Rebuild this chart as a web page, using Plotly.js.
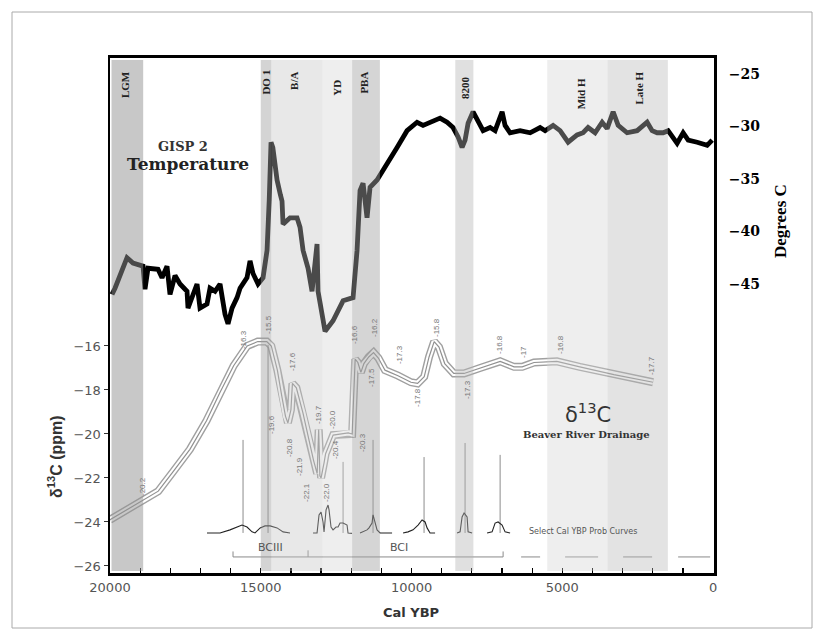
<!DOCTYPE html>
<html>
<head>
<meta charset="utf-8">
<script src="https://cdn.plot.ly/plotly-3.0.1.min.js"></script>
<style>
html,body{margin:0;padding:0;background:#fff;}
#chart{width:822px;height:639px;}
</style>
</head>
<body>
<div id="chart"></div>
<script>
// ---------- DATA ----------
// GISP2 temperature (years BP, degrees C)
const tempYears = [19934,19834,19436,19237,18905,18839,18740,18408,18275,18109,18010,17844,17678,17446,17413,17114,17015,16783,16683,16517,16351,16185,16086,15953,15787,15688,15456,15356,15257,15091,14925,14792,14720,14660,14600,14460,14350,14295,14262,14030,13797,13698,13598,13432,13300,13134,13101,12968,12868,12603,12271,11940,11807,11708,11608,11476,11376,11144,10945,10712,10480,10149,9817,9618,9386,9054,8822,8623,8457,8324,8225,8125,7959,7793,7627,7395,7229,6997,6898,6732,6400,6068,5737,5571,5306,5074,4808,4510,4311,4145,3913,3680,3514,3315,3149,2851,2519,2188,2022,1856,1657,1491,1193,993,827,529,197,31];
const tempValues = [-46.0,-45.4,-42.5,-43.0,-43.3,-45.5,-43.5,-43.6,-44.4,-43.3,-46.0,-44.2,-45.0,-45.7,-47.3,-45.0,-47.3,-46.9,-45.4,-45.7,-45.0,-47.9,-48.8,-47.3,-46.3,-45.4,-44.4,-42.8,-44.0,-45.0,-44.4,-41.8,-37.0,-31.5,-32.0,-35.1,-36.5,-37.1,-39.3,-38.7,-38.7,-39.6,-41.8,-43.5,-45.7,-41.2,-45.7,-47.6,-49.5,-48.5,-46.6,-46.3,-41.8,-36.1,-35.4,-38.7,-35.8,-35.1,-34.2,-33.2,-32.0,-30.4,-29.6,-29.9,-29.6,-29.2,-29.6,-30.1,-31.0,-32.0,-31.3,-29.7,-28.6,-29.4,-30.4,-30.1,-30.4,-28.6,-29.9,-30.6,-30.4,-30.6,-30.1,-30.4,-29.9,-30.4,-31.5,-30.8,-30.6,-30.1,-30.6,-29.6,-30.2,-28.6,-29.9,-30.6,-30.4,-29.6,-30.4,-30.6,-30.6,-30.4,-31.6,-30.6,-31.3,-31.5,-31.8,-31.3];

// Beaver River Drainage delta 13C (years BP, ppm)
const d13Years = [20000,19000,18400,17900,17350,16800,16350,15900,15450,15100,14800,14650,14450,14300,14180,14100,14000,13950,13820,13600,13400,13250,13130,13080,13040,13000,12900,12850,12600,12100,11970,11870,11780,11680,11580,11420,11260,11100,10880,10450,10020,9800,9580,9420,9250,9090,8900,8600,8260,7730,7060,6600,6330,5940,5180,4420,3290,1990];
const d13Values = [-23.9,-23.1,-22.6,-21.7,-20.7,-19.4,-18.1,-16.9,-16.0,-15.8,-15.8,-16.0,-17.1,-18.3,-19.2,-19.5,-18.9,-17.7,-17.9,-19.05,-20.3,-21.2,-21.8,-19.8,-21.9,-22.0,-21.3,-20.9,-20.05,-19.95,-20.0,-16.6,-16.75,-17.2,-16.8,-16.5,-16.3,-16.55,-17.1,-17.35,-17.65,-17.7,-17.4,-16.5,-15.8,-16.05,-16.8,-17.25,-17.25,-17.0,-16.7,-16.95,-16.95,-16.75,-16.7,-16.95,-17.3,-17.65];

// value labels along the delta 13C curve
const d13LabelText = ["-20.2","-16.3","-15.5","-17.6","-19.6","-20.8","-21.9","-19.7","-20.0","-20.4","-22.1","-22.0","-20.3","-16.6","-16.2","-17.5","-17.3","-17.8","-15.8","-17.3","-16.8","-17","-16.8","-17.7"];
const d13LabelYear = [18905,15588,14759,13963,14626,14063,13698,13101,12603,12537,13465,12802,11608,11873,11210,11310,10381,9784,9154,8125,7063,6267,5040,2022];
const d13LabelAt   = [-22.41,-15.73,-15.05,-16.73,-19.59,-20.64,-21.5,-19.14,-19.36,-20.73,-22.68,-22.68,-20.41,-15.5,-15.18,-17.45,-16.41,-18.36,-15.18,-18.0,-15.95,-16.27,-15.95,-16.91];

// selected calibrated-age probability curves
const probYears = [
  [16783,16351,16020,15787,15622,15456,15290,15190,15020,14860,14690,14460,14260,14030],
  [13267,13134,13068,13001,12935,12902,12835,12769,12736,12670,12603,12504,12437,12371,12271,12139,12106,11973],
  [11708,11608,11476,11410,11310,11277,11210,11144,11045,10646],
  [10281,10115,9950,9784,9651,9551,9485,9386,9220],
  [8490,8390,8324,8258,8158,8125,7992],
  [7495,7329,7229,7130,6997,6898,6732]
];
const probValues = [
  [-24.5,-24.5,-24.36,-24.23,-24.14,-24.23,-24.45,-24.5,-24.27,-24.18,-24.18,-24.27,-24.45,-24.5],
  [-24.5,-24.5,-23.68,-23.55,-24.0,-24.45,-23.45,-23.23,-23.45,-24.23,-24.36,-24.23,-24.23,-24.05,-24.05,-24.14,-24.5,-24.52],
  [-24.5,-24.45,-24.36,-24.27,-24.05,-23.68,-24.05,-24.36,-24.5,-24.5],
  [-24.5,-24.45,-24.36,-24.14,-23.91,-24.0,-24.27,-24.5,-24.5],
  [-24.5,-24.45,-23.77,-23.59,-23.77,-24.45,-24.5],
  [-24.5,-24.45,-24.05,-24.0,-24.14,-24.45,-24.5]
];
// vertical pointer lines from the probability curves
const pointerYears = [15588,14759,12271,11277,9585,8225,7063];
const pointerTop   = [-20.27,-15.95,-21.27,-20.27,-21.05,-20.41,-20.95];
const pointerBase  = -24.5;

// cultural period brackets
const bracketStart = [15920];
const bracketEnd   = [6964];
const bracketMid   = [13432];
const bracketLevel = -25.59;
const dashStart = [6367,4908,2984,1160];
const dashEnd   = [5737,3813,2022,98];
const periodLabels = ["BCIII","BCI"];
const periodLabelYear = [14693,10414];

// climate intervals (shaded)
const bandLabels = ["LGM","DO 1","B/A","YD","PBA","8200","Mid H","Late H"];
const bandStart  = [19950,15000,14650,12950,11970,8550,5500,3500];
const bandEnd    = [18900,14650,12950,11970,11050,7950,3500,1500];
const bandLabelYear = [19500,14840,13900,12480,11590,8230,4370,2470];
const bandLabelY = [85,82,81,88,83,87,94,88];

// axes ticks
const leftTicks  = [-16,-18,-20,-22,-24,-26];
const rightTicks = [-25,-30,-35,-40,-45];

// ---------- STYLE ----------
const bandFill    = ["rgb(146,146,146)","rgb(161,161,161)","rgb(195,195,195)","rgb(208,208,208)","rgb(163,163,163)","rgb(180,180,180)","rgb(208,208,208)","rgb(185,185,185)"];
const bandOpacity = [0.5,0.46,0.38,0.36,0.46,0.41,0.36,0.40];

const PL=110, PW=604, PT=58, PH=515;
const fx = p => (p-PL)/PW;
const fy = p => (PT+PH-p)/PH;

const traces = [];
// delta13C triple line effect
traces.push({x:d13Years,y:d13Values,mode:'lines',line:{color:'#a0a0a0',width:8},hoverinfo:'skip',yaxis:'y'});
traces.push({x:d13Years,y:d13Values,mode:'lines',line:{color:'#ffffff',width:5.2},hoverinfo:'skip',yaxis:'y'});
traces.push({x:d13Years,y:d13Values,mode:'lines',line:{color:'#909090',width:1.2},hoverinfo:'skip',yaxis:'y'});

// pointer lines
const px=[],py=[];
pointerYears.forEach((yr,i)=>{px.push(yr,yr,null);py.push(pointerBase,pointerTop[i],null);});
traces.push({x:px,y:py,mode:'lines',line:{color:'#8c8c8c',width:1},hoverinfo:'skip',yaxis:'y'});

// probability curves
probYears.forEach((ys,i)=>{
  traces.push({x:ys,y:probValues[i],mode:'lines',line:{color:'#222',width:1.1},hoverinfo:'skip',yaxis:'y'});
});

// brackets
const bx=[],by=[];
bracketStart.forEach((s,i)=>{
  bx.push(s,s,bracketEnd[i],bracketEnd[i],null, bracketMid[i],bracketMid[i],null);
  by.push(bracketLevel+0.25,bracketLevel,bracketLevel,bracketLevel+0.25,null, bracketLevel,bracketLevel+0.3,null);
});
dashStart.forEach((s,i)=>{bx.push(s,dashEnd[i],null);by.push(bracketLevel,bracketLevel,null);});
traces.push({x:bx,y:by,mode:'lines',line:{color:'#8a8a8a',width:1},hoverinfo:'skip',yaxis:'y'});

// temperature
traces.push({x:tempYears,y:tempValues,mode:'lines',line:{color:'#000',width:4.8},hoverinfo:'skip',yaxis:'y2'});

const shapes = [];
bandStart.forEach((s,i)=>{
  shapes.push({type:'rect',xref:'x',yref:'paper',x0:s,x1:bandEnd[i],y0:0.004,y1:0.996,
    fillcolor:bandFill[i],opacity:bandOpacity[i],line:{width:0},layer:'above'});
});
// outer frame
shapes.push({type:'rect',xref:'paper',yref:'paper',x0:fx(12),x1:fx(812),y0:fy(628),y1:fy(12),line:{color:'#aaa',width:1},fillcolor:'rgba(0,0,0,0)',layer:'below'});

const ann = [];
const C = {xanchor:'center',yanchor:'middle',showarrow:false};
bandLabels.forEach((t,i)=>{
  ann.push(Object.assign({text:t,xref:'x',yref:'paper',x:bandLabelYear[i],y:fy(bandLabelY[i]),textangle:-90,
    font:{family:'Liberation Serif',size:11,color:'#222',weight:'bold'}},C));
});
d13LabelText.forEach((t,i)=>{
  ann.push(Object.assign({text:t,xref:'x',yref:'y',x:d13LabelYear[i],y:d13LabelAt[i],textangle:-90,
    font:{family:'Liberation Sans',size:8,color:'#777'}},C));
});
periodLabels.forEach((t,i)=>{
  ann.push(Object.assign({text:t,xref:'x',yref:'paper',x:periodLabelYear[i],y:fy(547),
    font:{family:'DejaVu Sans',size:11,color:'#555'}},C));
});
ann.push({text:'Select Cal YBP Prob Curves',xref:'paper',yref:'paper',x:fx(527),y:fy(531),xanchor:'left',yanchor:'middle',showarrow:false,font:{family:'DejaVu Sans',size:8,color:'#555'}});
ann.push(Object.assign({text:'GISP 2',xref:'paper',yref:'paper',x:fx(183),y:fy(146),font:{family:'DejaVu Serif',size:13,color:'#333',weight:'bold'}},C));
ann.push(Object.assign({text:'Temperature',xref:'paper',yref:'paper',x:fx(188),y:fy(164),font:{family:'DejaVu Serif',size:17,color:'#222',weight:'bold'}},C));
ann.push(Object.assign({text:'δ<sup>13</sup>C',xref:'paper',yref:'paper',x:fx(588),y:fy(413),font:{family:'DejaVu Sans',size:21,color:'#333'}},C));
ann.push(Object.assign({text:'Beaver River Drainage',xref:'paper',yref:'paper',x:fx(586),y:fy(434),font:{family:'DejaVu Serif',size:10,color:'#333',weight:'bold'}},C));
ann.push(Object.assign({text:'δ<sup>13</sup>C (ppm)',xref:'paper',yref:'paper',x:fx(55),y:fy(457),textangle:-90,font:{family:'Liberation Sans',size:16,color:'#333',weight:'bold'}},C));
ann.push(Object.assign({text:'Degrees C',xref:'paper',yref:'paper',x:fx(780),y:fy(221),textangle:-90,font:{family:'Liberation Serif',size:17,color:'#000',weight:'bold'}},C));
ann.push(Object.assign({text:'Cal YBP',xref:'paper',yref:'paper',x:fx(411),y:fy(612),font:{family:'DejaVu Sans',size:13,color:'#333',weight:'bold'}},C));

const layout = {
  width:822,height:639,
  margin:{l:PL,r:822-PL-PW,t:PT,b:639-PT-PH,pad:0},
  paper_bgcolor:'#fff',plot_bgcolor:'#fff',
  showlegend:false,
  font:{family:'DejaVu Sans'},
  xaxis:{range:[20000,-30],tickvals:[20000,15000,10000,5000,0],ticktext:['20000','15000','10000','5000','0'],
    ticks:'inside',ticklen:5,tickwidth:1.2,tickcolor:'#000',
    minor:{tickvals:[19000,18000,17000,16000,14000,13000,12000,11000,9000,8000,7000,6000,4000,3000,2000,1000],ticks:'inside',ticklen:5,tickwidth:1.2,tickcolor:'#000'},
    showgrid:false,zeroline:false,showline:true,mirror:true,linecolor:'#000',linewidth:3,
    tickfont:{family:'DejaVu Sans',size:13,color:'#555'}},
  yaxis:{range:[-26.32,-2.91],tickvals:leftTicks,ticks:'outside',ticklen:4,tickcolor:'#333',tickwidth:1,
    showgrid:false,zeroline:false,showline:true,mirror:true,linecolor:'#000',linewidth:2.5,
    tickfont:{family:'DejaVu Sans',size:13,color:'#555'}},
  yaxis2:{range:[-72.52,-23.48],overlaying:'y',side:'right',tickvals:rightTicks,ticks:'outside',ticklen:11,tickcolor:'rgba(0,0,0,0)',
    showgrid:false,zeroline:false,showline:false,
    tickfont:{family:'DejaVu Serif',size:14,color:'#000',weight:'bold'}},
  shapes:shapes,
  annotations:ann
};

Plotly.newPlot('chart',traces,layout,{staticPlot:true,displayModeBar:false});
</script>
</body>
</html>
